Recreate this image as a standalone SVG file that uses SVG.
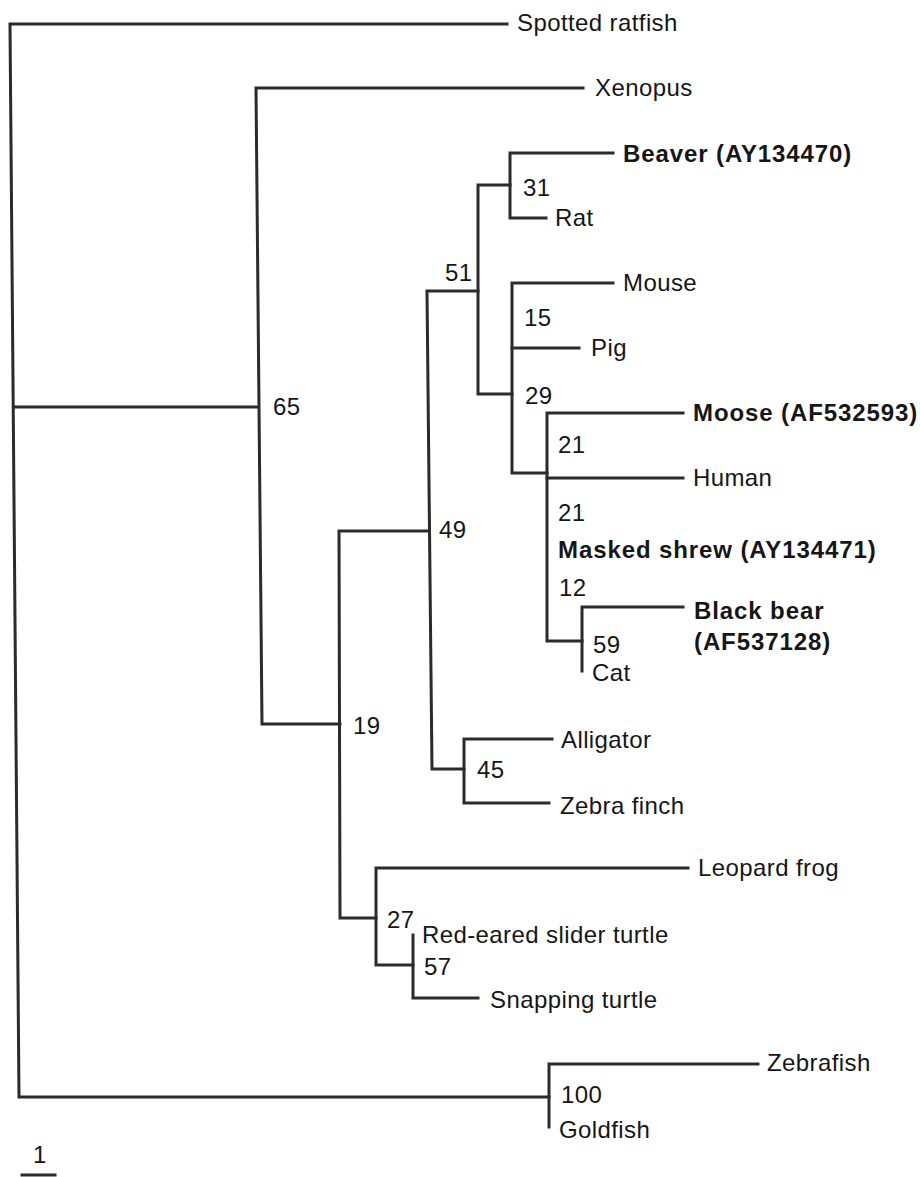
<svg xmlns="http://www.w3.org/2000/svg" width="920" height="1177" viewBox="0 0 920 1177">
<style>
.br{fill:none;stroke:#2b2b2b;stroke-width:3;stroke-linejoin:miter;stroke-linecap:square}
text{font-family:"Liberation Sans",Arial,sans-serif;font-size:24px;fill:#161616;letter-spacing:0.4px}
.b{font-weight:bold;letter-spacing:0.9px}
</style>
<rect width="920" height="1177" fill="#ffffff"/>
<g id="connectors">
<path class="br" d="M507,24 H10 L19,1097 H549"/>
<path class="br" d="M14,407 H258"/>
<path class="br" d="M583,88 H256 L262,724 H340"/>
<path class="br" d="M428,531 H339 L340,918 H376"/>
<path class="br" d="M478,291 H427 L432,769 H464"/>
<path class="br" d="M510,185 H478 V394 H512"/>
<path class="br" d="M613,153 H510 V218 H546"/>
<path class="br" d="M613,283 H512 V473 H547"/>
<path class="br" d="M512,348 H579"/>
<path class="br" d="M683,413 H547 V641 H582"/>
<path class="br" d="M547,478 H683"/>
<path class="br" d="M683,607 H582 V671"/>
<path class="br" d="M552,739 H464 V803 H549"/>
<path class="br" d="M688,868 H376 V965 H413"/>
<path class="br" d="M413,935 V998 H478"/>
<path class="br" d="M758,1064 H549 V1127"/>
<path class="br" d="M22,1175 H55"/>
</g>
<g id="n-spotted-ratfish"><text x="517" y="31">Spotted ratfish</text></g>
<g id="n-xenopus"><text x="595" y="96">Xenopus</text></g>
<g id="n-beaver"><text class="b" x="623" y="162">Beaver (AY134470)</text></g>
<g id="s-31"><text x="523" y="196">31</text></g>
<g id="n-rat"><text x="555" y="226">Rat</text></g>
<g id="s-51"><text x="445" y="281">51</text></g>
<g id="n-mouse"><text x="623" y="291">Mouse</text></g>
<g id="s-15"><text x="524" y="326">15</text></g>
<g id="n-pig"><text x="591" y="356">Pig</text></g>
<g id="s-29"><text x="525" y="404">29</text></g>
<g id="s-65"><text x="273" y="415">65</text></g>
<g id="n-moose"><text class="b" x="693" y="421">Moose (AF532593)</text></g>
<g id="s-21a"><text x="558" y="453">21</text></g>
<g id="n-human"><text x="693" y="486">Human</text></g>
<g id="s-21b"><text x="558" y="521">21</text></g>
<g id="s-49"><text x="439" y="538">49</text></g>
<g id="n-masked-shrew"><text class="b" x="558" y="558">Masked shrew (AY134471)</text></g>
<g id="s-12"><text x="559" y="596">12</text></g>
<g id="n-black-bear"><text class="b" x="694" y="619">Black bear</text><text class="b" x="694" y="650">(AF537128)</text></g>
<g id="s-59"><text x="593" y="653">59</text></g>
<g id="n-cat"><text x="592" y="681">Cat</text></g>
<g id="s-19"><text x="353" y="734">19</text></g>
<g id="n-alligator"><text x="561" y="748">Alligator</text></g>
<g id="s-45"><text x="477" y="778">45</text></g>
<g id="n-zebra-finch"><text x="560" y="814">Zebra finch</text></g>
<g id="n-leopard-frog"><text x="698" y="876">Leopard frog</text></g>
<g id="s-27"><text x="387" y="928">27</text></g>
<g id="n-red-eared"><text x="422" y="943">Red-eared slider turtle</text></g>
<g id="s-57"><text x="424" y="975">57</text></g>
<g id="n-snapping-turtle"><text x="490" y="1008">Snapping turtle</text></g>
<g id="n-zebrafish"><text x="767" y="1071">Zebrafish</text></g>
<g id="s-100"><text x="561" y="1103">100</text></g>
<g id="n-goldfish"><text x="559" y="1138">Goldfish</text></g>
<g id="scale"><text x="33" y="1163">1</text></g>
</svg>
